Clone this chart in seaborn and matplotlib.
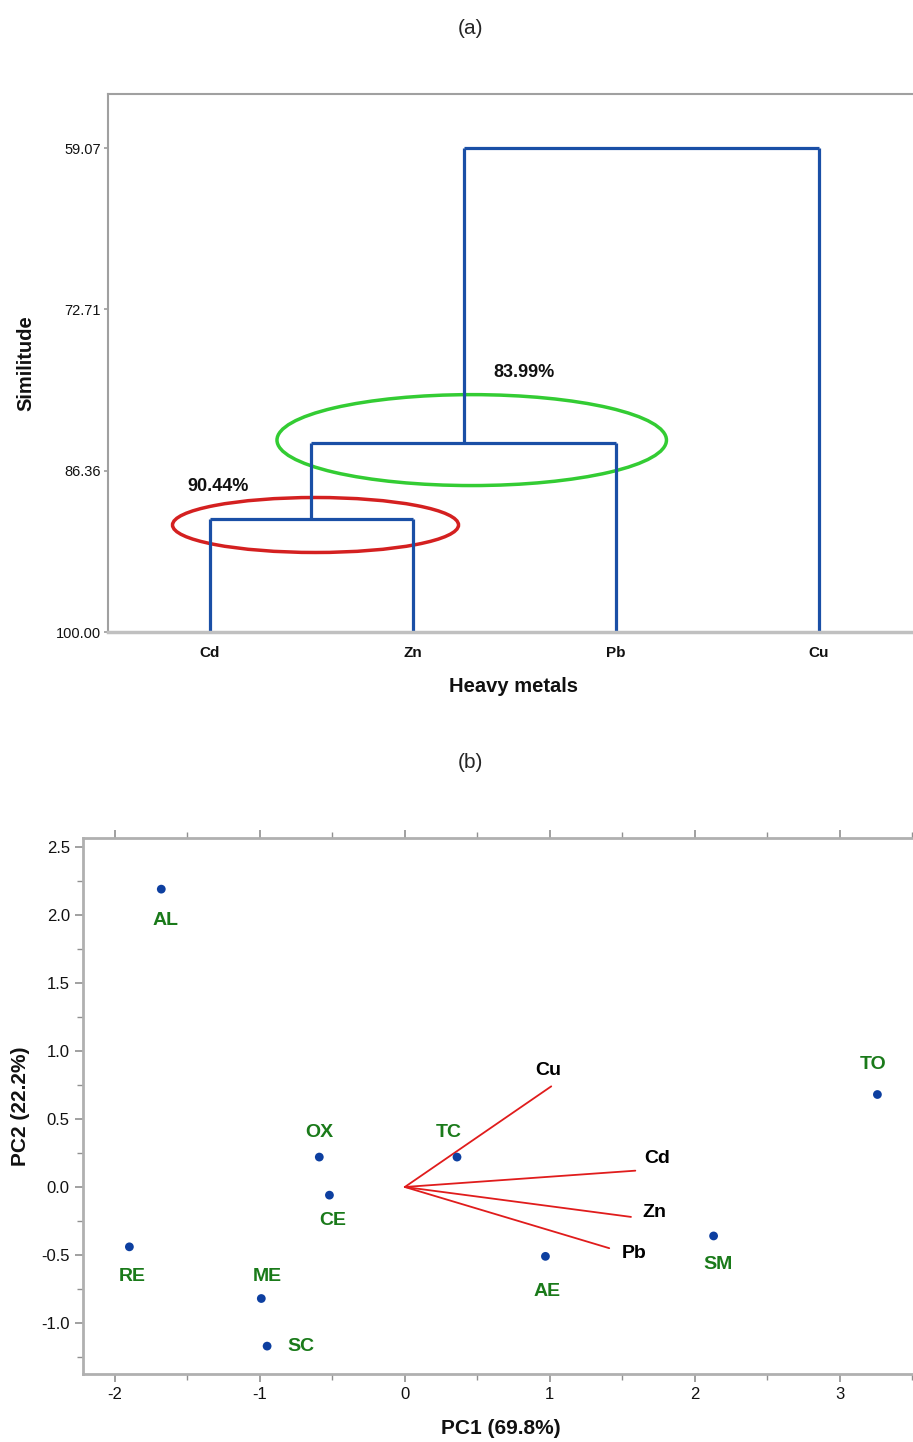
import matplotlib
matplotlib.use("Agg")
import matplotlib.pyplot as plt
import seaborn as sns
import numpy as np
import pandas as pd
from matplotlib.patches import Ellipse
from matplotlib.ticker import MultipleLocator

# ---------------- data ----------------
metals = ["Cd", "Zn", "Pb", "Cu"]
sim_ticks = [59.07, 72.71, 86.36, 100.00]
merge_cdzn = 90.44
merge_pb = 83.99
merge_cu = 59.07

samples = ["AL", "OX", "TC", "CE", "RE", "ME", "SC", "AE", "SM", "TO"]
pc1 = [-1.68, -0.59, 0.36, -0.52, -1.90, -0.99, -0.95, 0.97, 2.13, 3.26]
pc2 = [2.19, 0.22, 0.22, -0.06, -0.44, -0.82, -1.17, -0.51, -0.36, 0.68]
lab_x = [-1.65, -0.59, 0.30, -0.50, -1.88, -0.95, -0.72, 0.98, 2.16, 3.23]
lab_y = [1.96, 0.40, 0.40, -0.25, -0.66, -0.66, -1.17, -0.77, -0.57, 0.90]

load_names = ["Cu", "Cd", "Zn", "Pb"]
load_x = [1.01, 1.59, 1.56, 1.41]
load_y = [0.74, 0.12, -0.22, -0.45]
load_lx = [0.99, 1.74, 1.72, 1.58]
load_ly = [0.86, 0.21, -0.19, -0.49]

# ---------------- style ----------------
sns.set_theme(style="white")
fams = ["Liberation Sans Narrow", "Liberation Sans", "DejaVu Sans"]
plt.rcParams["font.family"] = fams
plt.rcParams["axes.edgecolor"] = "#a0a0a0"

W, H = 913, 1442
fig = plt.figure(figsize=(W / 100, H / 100), dpi=100)

def box(l, t, r, b):
    return [l / W, 1 - b / H, (r - l) / W, (b - t) / H]

blue = "#1a4fa6"

# ---------------- panel (a): dendrogram ----------------
ax1 = fig.add_axes(box(108, 94, 918, 632))
xpos = {m: i + 1 for i, m in enumerate(metals)}
segs = []
x_cdzn = (xpos["Cd"] + xpos["Zn"]) / 2
segs += [([xpos["Cd"], xpos["Cd"]], [100, merge_cdzn]),
         ([xpos["Zn"], xpos["Zn"]], [100, merge_cdzn]),
         ([xpos["Cd"], xpos["Zn"]], [merge_cdzn, merge_cdzn])]
x_pb = (x_cdzn + xpos["Pb"]) / 2
segs += [([x_cdzn, x_cdzn], [merge_cdzn, merge_pb]),
         ([xpos["Pb"], xpos["Pb"]], [100, merge_pb]),
         ([x_cdzn, xpos["Pb"]], [merge_pb, merge_pb])]
segs += [([x_pb, x_pb], [merge_pb, merge_cu]),
         ([xpos["Cu"], xpos["Cu"]], [100, merge_cu]),
         ([x_pb, xpos["Cu"]], [merge_cu, merge_cu])]
for xs, ys in segs:
    d = pd.DataFrame({"x": xs, "y": ys})
    ax1.plot(d["x"], d["y"], color=blue, lw=2.3, solid_capstyle="butt")

ax1.set_xlim(0.497, 4.49)
ax1.set_ylim(100, 54.5)
ax1.set_yticks(sim_ticks)
ax1.set_yticklabels([f"{v:.2f}" for v in sim_ticks], fontsize=10.5, color="#111111")
ax1.set_xticks(list(xpos.values()))
ax1.set_xticklabels(metals, fontsize=11, fontweight="bold", color="#111111")
ax1.tick_params(axis="y", length=3, color="#a0a0a0", pad=2, left=True)
ax1.tick_params(axis="x", length=0, pad=10)
ax1.set_ylabel("Similitude", fontsize=14.5, fontweight="bold", labelpad=15, color="#111111")
ax1.set_xlabel("Heavy metals", fontsize=14.5, fontweight="bold", labelpad=12, color="#111111")
for s in ["top", "right", "left"]:
    ax1.spines[s].set_linewidth(1.5)
ax1.spines["bottom"].set_linewidth(2.5)
ax1.spines["bottom"].set_color("#c0c0c0")

ax1.add_patch(Ellipse((1.52, 90.95), 1.41, 4.65, fill=False, ec="#d42020", lw=2.5))
ax1.add_patch(Ellipse((2.29, 83.77), 1.92, 7.69, fill=False, ec="#33cc33", lw=2.5))
ax1.text(1.04, 87.66, f"{merge_cdzn:.2f}%", fontsize=13, fontweight="bold",
         ha="center", va="center", color="#111111")
ax1.text(2.55, 78.02, f"{merge_pb:.2f}%", fontsize=13, fontweight="bold",
         ha="center", va="center", color="#111111")

fig.text(470 / W, 1 - 28 / H, "(a)", fontsize=15, ha="center", va="center",
         family=["Liberation Sans", "DejaVu Sans"])
fig.text(470 / W, 1 - 763 / H, "(b)", fontsize=15, ha="center", va="center",
         family=["Liberation Sans", "DejaVu Sans"])

# ---------------- panel (b): PCA biplot ----------------
ax2 = fig.add_axes(box(83, 838, 918, 1374))
df = pd.DataFrame({"PC1": pc1, "PC2": pc2, "sample": samples})
for nx, ny in zip(load_x, load_y):
    ax2.plot([0, nx], [0, ny], color="#e01c1c", lw=1.3, zorder=2)
sns.scatterplot(data=df, x="PC1", y="PC2", ax=ax2, color="#0d3fa0", s=40,
                edgecolor="none", zorder=3)
for s, lx, ly in zip(samples, lab_x, lab_y):
    ax2.text(lx, ly, s, color="#1a7a1a", fontsize=14, fontweight="bold",
             ha="center", va="center")
for n, lx, ly in zip(load_names, load_lx, load_ly):
    ax2.text(lx, ly, n, color="black", fontsize=14, fontweight="bold",
             ha="center", va="center")

ax2.set_xlim(-2.22, 3.54)
ax2.set_ylim(-1.375, 2.566)
ax2.set_xticks([-2, -1, 0, 1, 2, 3])
ax2.set_xticklabels(["-2", "-1", "0", "1", "2", "3"])
ax2.set_yticks([-1.0, -0.5, 0.0, 0.5, 1.0, 1.5, 2.0, 2.5])
ax2.set_yticklabels(["-1.0", "-0.5", "0.0", "0.5", "1.0", "1.5", "2.0", "2.5"])
ax2.xaxis.set_minor_locator(MultipleLocator(0.5))
ax2.yaxis.set_minor_locator(MultipleLocator(0.25))
ax2.tick_params(axis="both", which="both", direction="out", color="#909090",
                labelsize=12, labelcolor="#111111", bottom=True, top=True,
                left=True, labeltop=False)
ax2.tick_params(axis="both", which="major", length=6, width=1.2)
ax2.tick_params(axis="both", which="minor", length=4, width=1.0)
ax2.set_xlabel("PC1 (69.8%)", fontsize=15, fontweight="bold", labelpad=12, color="#111111")
ax2.set_ylabel("PC2 (22.2%)", fontsize=15, fontweight="bold", labelpad=8, color="#111111")
for s in ax2.spines.values():
    s.set_linewidth(2)
    s.set_color("#b0b0b0")

fig.savefig("out.png", dpi=100)
